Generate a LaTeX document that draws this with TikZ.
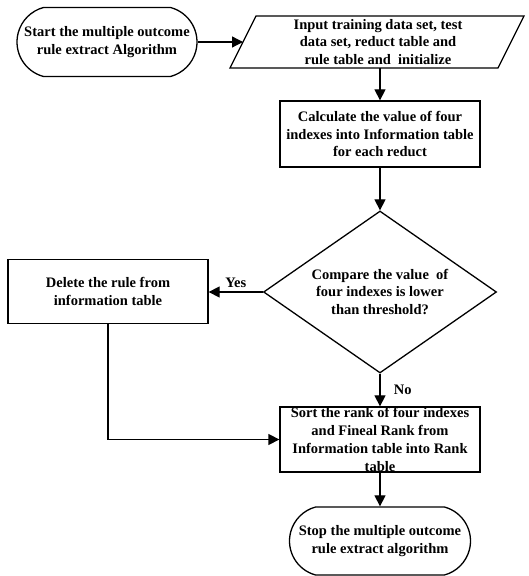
\documentclass[tikz,border=0pt]{standalone}
\usepackage{fontspec}
\setmainfont{Liberation Serif}
\usetikzlibrary{arrows.meta,shapes.geometric,shapes.misc}
\begin{document}
\begin{tikzpicture}[x=1pt,y=1pt,
  every node/.style={font=\bfseries\fontsize{14.5}{17.7}\selectfont, align=center},
  box/.style={draw, line width=1.3pt, minimum width=200pt, inner sep=0pt},
  term/.style={draw, line width=1.3pt, rounded rectangle, rounded rectangle arc length=150,
    minimum width=180pt, minimum height=69pt, inner sep=0pt},
  dec/.style={draw, line width=1.3pt, diamond, aspect=1.44, minimum width=233pt,
    minimum height=162pt, inner sep=0pt},
  arr/.style={line width=1.3pt, -{Triangle[length=11pt,width=11pt]}},
  lin/.style={line width=1.3pt, line join=miter}]
\useasboundingbox (0,0) rectangle (528,576);
% start terminal
\node[term] (start) at (107,534) {Start the multiple outcome\\rule extract Algorithm};
% input parallelogram
\draw[lin] (230,508) -- (498,508) -- (524,560) -- (256,560) -- cycle;
\coordinate (inL) at (243,534);
\coordinate (inB) at (380,508);
\node (input) at (378,534) {Input training data set, test\\data set, reduct table and\\rule table and\ \ initialize};
% process boxes
\node[box, minimum height=66pt] (calc) at (380,442) {Calculate the value of four\\indexes into Information table\\for each reduct};
\node[dec] (dia) at (380,284) {Compare the value\ \ of\\four indexes is lower\\than threshold?};
\node[box, minimum height=64pt] (del) at (108,284.5) {Delete the rule from\\information table};
\node[box, minimum height=65pt] (sort) at (380,136.5) {Sort the rank of four indexes\\and Fineal Rank from\\Information table into Rank\\table};
\node[term, minimum width=181pt, minimum height=68pt] (stop) at (380,35) {Stop the multiple outcome\\rule extract algorithm};
% connectors
\draw[arr] (start.east) -- (inL);
\draw[arr] (inB) -- (calc.north);
\draw[arr] (calc.south) -- (dia.north);
\draw[arr] (dia.west) -- (dia.west -| del.east) node[midway, above] (yes) {Yes};
\draw[arr] (dia.south) -- (sort.north) node[midway, right=10pt] (no) {No};
\draw[arr] (del.south) |- (sort.west);
\draw[arr] (sort.south) -- (stop.north);
\end{tikzpicture}
\end{document}
